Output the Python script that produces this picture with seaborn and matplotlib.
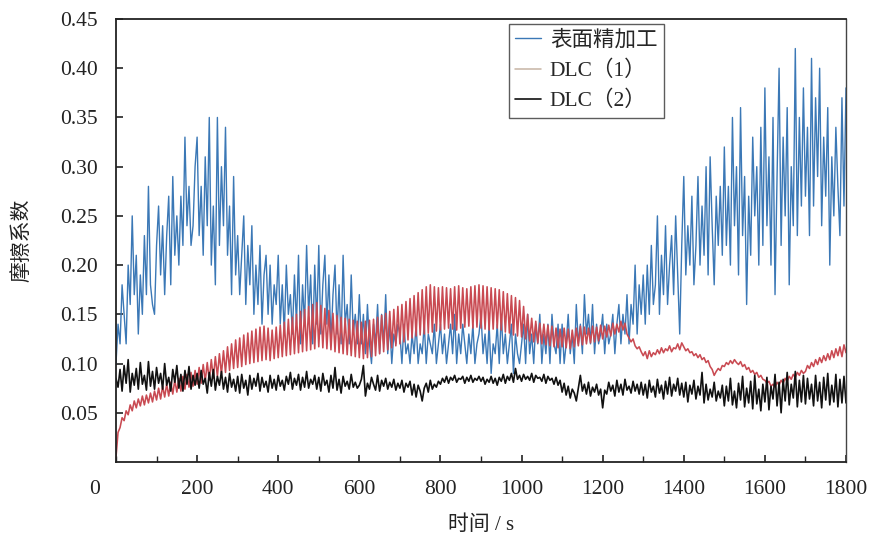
import numpy as np
import pandas as pd
import matplotlib
matplotlib.use('Agg')
import matplotlib.pyplot as plt
import seaborn as sns
from matplotlib.ticker import MultipleLocator

# 时间轴：0 ~ 1800 s，每 5 s 一个点
time_s = list(range(0, 1801, 5))

# 表面精加工
surface = [
    0.10, 0.14, 0.12, 0.18, 0.15, 0.12, 0.20, 0.16, 0.25, 0.17, 0.21, 0.13, 0.19, 0.15, 0.23, 0.17, 0.28, 0.18, 0.16, 0.15,
    0.22, 0.26, 0.19, 0.24, 0.17, 0.23, 0.27, 0.18, 0.29, 0.21, 0.25, 0.20, 0.27, 0.22, 0.33, 0.24, 0.28, 0.22, 0.24, 0.30,
    0.33, 0.23, 0.28, 0.21, 0.31, 0.24, 0.35, 0.20, 0.26, 0.18, 0.35, 0.22, 0.30, 0.24, 0.34, 0.21, 0.26, 0.17, 0.29, 0.19,
    0.23, 0.17, 0.21, 0.25, 0.16, 0.22, 0.18, 0.24, 0.15, 0.20, 0.16, 0.22, 0.14, 0.19, 0.21, 0.15, 0.20, 0.14, 0.18, 0.16,
    0.21, 0.14, 0.18, 0.13, 0.20, 0.15, 0.17, 0.13, 0.19, 0.14, 0.21, 0.12, 0.18, 0.14, 0.22, 0.15, 0.19, 0.12, 0.20, 0.14,
    0.22, 0.13, 0.18, 0.21, 0.14, 0.19, 0.12, 0.17, 0.20, 0.13, 0.18, 0.12, 0.21, 0.14, 0.16, 0.12, 0.19, 0.13, 0.15, 0.12,
    0.17, 0.12, 0.15, 0.11, 0.16, 0.12, 0.10, 0.14, 0.12, 0.16, 0.11, 0.15, 0.12, 0.17, 0.11, 0.14, 0.10, 0.13, 0.12, 0.14,
    0.13, 0.10, 0.14, 0.11, 0.12, 0.10, 0.13, 0.11, 0.14, 0.10, 0.12, 0.11, 0.14, 0.10, 0.13, 0.12, 0.11, 0.14, 0.10, 0.12,
    0.14, 0.11, 0.13, 0.10, 0.12, 0.14, 0.11, 0.15, 0.10, 0.13, 0.11, 0.14, 0.12, 0.10, 0.13, 0.11, 0.14, 0.10, 0.12, 0.13,
    0.15, 0.11, 0.13, 0.10, 0.14, 0.09, 0.12, 0.11, 0.14, 0.10, 0.15, 0.11, 0.13, 0.10, 0.12, 0.14, 0.09, 0.13, 0.11, 0.10,
    0.12, 0.14, 0.10, 0.15, 0.11, 0.13, 0.10, 0.14, 0.12, 0.15, 0.10, 0.13, 0.11, 0.14, 0.10, 0.15, 0.12, 0.11, 0.14, 0.10,
    0.14, 0.10, 0.12, 0.15, 0.11, 0.13, 0.10, 0.16, 0.12, 0.14, 0.11, 0.17, 0.13, 0.15, 0.12, 0.16, 0.11, 0.14, 0.12, 0.13,
    0.15, 0.11, 0.14, 0.12, 0.13, 0.15, 0.11, 0.14, 0.16, 0.12, 0.15, 0.13, 0.17, 0.12, 0.16, 0.14, 0.20, 0.13, 0.18, 0.15,
    0.19, 0.14, 0.20, 0.15, 0.22, 0.16, 0.18, 0.25, 0.15, 0.21, 0.17, 0.24, 0.16, 0.20, 0.23, 0.17, 0.25, 0.19, 0.13, 0.22,
    0.29, 0.19, 0.24, 0.20, 0.27, 0.18, 0.22, 0.29, 0.20, 0.26, 0.21, 0.30, 0.19, 0.31, 0.24, 0.18, 0.27, 0.22, 0.28, 0.21,
    0.32, 0.22, 0.28, 0.20, 0.35, 0.24, 0.30, 0.19, 0.36, 0.23, 0.29, 0.16, 0.27, 0.21, 0.33, 0.25, 0.30, 0.20, 0.34, 0.22,
    0.38, 0.24, 0.31, 0.20, 0.35, 0.17, 0.29, 0.40, 0.22, 0.33, 0.25, 0.36, 0.18, 0.30, 0.24, 0.42, 0.23, 0.35, 0.26, 0.38,
    0.27, 0.34, 0.23, 0.41, 0.26, 0.37, 0.29, 0.40, 0.24, 0.33, 0.27, 0.36, 0.20, 0.31, 0.25, 0.34, 0.28, 0.23, 0.37, 0.26,
    0.38,
]

# DLC（1）
dlc1 = [
    0.005, 0.030, 0.035, 0.045, 0.042, 0.052, 0.048, 0.058, 0.052, 0.062, 0.055, 0.064, 0.057, 0.067, 0.058, 0.068, 0.060, 0.070, 0.061, 0.072,
    0.063, 0.075, 0.064, 0.077, 0.066, 0.079, 0.067, 0.081, 0.069, 0.083, 0.071, 0.085, 0.072, 0.087, 0.074, 0.089, 0.076, 0.091, 0.077, 0.093,
    0.079, 0.096, 0.080, 0.099, 0.082, 0.101, 0.083, 0.104, 0.085, 0.107, 0.087, 0.110, 0.089, 0.113, 0.091, 0.117, 0.093, 0.120, 0.095, 0.124,
    0.096, 0.126, 0.097, 0.129, 0.099, 0.131, 0.100, 0.133, 0.101, 0.135, 0.102, 0.137, 0.103, 0.138, 0.104, 0.136, 0.103, 0.134, 0.105, 0.137,
    0.106, 0.139, 0.107, 0.142, 0.108, 0.145, 0.109, 0.147, 0.110, 0.150, 0.111, 0.153, 0.112, 0.155, 0.113, 0.158, 0.114, 0.160, 0.115, 0.162,
    0.117, 0.159, 0.116, 0.156, 0.115, 0.154, 0.114, 0.151, 0.112, 0.149, 0.111, 0.147, 0.110, 0.146, 0.109, 0.145, 0.108, 0.144, 0.107, 0.143,
    0.106, 0.142, 0.105, 0.143, 0.106, 0.144, 0.107, 0.145, 0.108, 0.147, 0.110, 0.149, 0.112, 0.151, 0.114, 0.153, 0.116, 0.155, 0.118, 0.158,
    0.120, 0.160, 0.122, 0.163, 0.124, 0.166, 0.126, 0.169, 0.128, 0.172, 0.129, 0.175, 0.130, 0.178, 0.131, 0.180, 0.132, 0.178, 0.133, 0.177,
    0.134, 0.178, 0.135, 0.177, 0.136, 0.176, 0.135, 0.178, 0.134, 0.179, 0.136, 0.177, 0.137, 0.176, 0.138, 0.178, 0.136, 0.179, 0.137, 0.180,
    0.136, 0.179, 0.135, 0.178, 0.134, 0.177, 0.135, 0.176, 0.136, 0.175, 0.134, 0.173, 0.132, 0.171, 0.131, 0.169, 0.129, 0.167, 0.128, 0.164,
    0.127, 0.158, 0.125, 0.150, 0.123, 0.146, 0.122, 0.143, 0.121, 0.141, 0.120, 0.140, 0.119, 0.139, 0.118, 0.138, 0.117, 0.136, 0.116, 0.135,
    0.117, 0.136, 0.116, 0.135, 0.115, 0.134, 0.117, 0.136, 0.118, 0.138, 0.119, 0.137, 0.120, 0.136, 0.121, 0.138, 0.122, 0.137, 0.123, 0.139,
    0.125, 0.138, 0.127, 0.139, 0.128, 0.141, 0.130, 0.140, 0.132, 0.143, 0.134, 0.141, 0.130, 0.126, 0.122, 0.125, 0.118, 0.115, 0.117, 0.112,
    0.108, 0.112, 0.105, 0.113, 0.107, 0.111, 0.109, 0.114, 0.110, 0.116, 0.111, 0.115, 0.113, 0.118, 0.112, 0.116, 0.115, 0.120, 0.114, 0.121,
    0.117, 0.113, 0.115, 0.111, 0.112, 0.108, 0.110, 0.106, 0.109, 0.104, 0.106, 0.101, 0.103, 0.097, 0.094, 0.088, 0.092, 0.095, 0.093, 0.098,
    0.097, 0.101, 0.099, 0.103, 0.100, 0.104, 0.101, 0.099, 0.102, 0.097, 0.099, 0.094, 0.096, 0.091, 0.093, 0.089, 0.091, 0.086, 0.088, 0.084,
    0.083, 0.080, 0.082, 0.077, 0.079, 0.076, 0.081, 0.078, 0.083, 0.080, 0.085, 0.082, 0.087, 0.084, 0.089, 0.086, 0.091, 0.088, 0.093, 0.090,
    0.092, 0.098, 0.095, 0.101, 0.097, 0.104, 0.099, 0.106, 0.101, 0.108, 0.103, 0.110, 0.104, 0.113, 0.106, 0.115, 0.108, 0.117, 0.107, 0.119,
    0.111,
]

# DLC（2）
dlc2 = [
    0.085, 0.076, 0.094, 0.072, 0.098, 0.080, 0.104, 0.071, 0.090, 0.078, 0.095, 0.074, 0.101, 0.079, 0.088, 0.073, 0.102, 0.077, 0.092, 0.074,
    0.096, 0.080, 0.090, 0.074, 0.100, 0.078, 0.086, 0.072, 0.094, 0.081, 0.098, 0.075, 0.089, 0.072, 0.093, 0.079, 0.097, 0.074, 0.088, 0.078,
    0.090, 0.075, 0.093, 0.079, 0.085, 0.070, 0.091, 0.077, 0.094, 0.073, 0.087, 0.078, 0.092, 0.074, 0.086, 0.071, 0.090, 0.076, 0.084, 0.072,
    0.087, 0.070, 0.089, 0.075, 0.083, 0.068, 0.088, 0.074, 0.085, 0.077, 0.090, 0.072, 0.086, 0.076, 0.082, 0.071, 0.088, 0.075, 0.084, 0.073,
    0.088, 0.077, 0.083, 0.073, 0.087, 0.079, 0.091, 0.074, 0.085, 0.078, 0.089, 0.073, 0.086, 0.076, 0.092, 0.075, 0.084, 0.079, 0.088, 0.074,
    0.086, 0.072, 0.090, 0.078, 0.083, 0.071, 0.088, 0.075, 0.096, 0.073, 0.084, 0.070, 0.087, 0.077, 0.082, 0.074, 0.089, 0.076, 0.081, 0.075,
    0.078, 0.084, 0.098, 0.067, 0.080, 0.074, 0.086, 0.079, 0.073, 0.088, 0.072, 0.083, 0.077, 0.085, 0.074, 0.081, 0.076, 0.084, 0.073, 0.080,
    0.075, 0.083, 0.071, 0.080, 0.076, 0.082, 0.068, 0.079, 0.066, 0.078, 0.072, 0.062, 0.075, 0.080, 0.071, 0.083, 0.074, 0.079, 0.076, 0.082,
    0.079, 0.085, 0.081, 0.087, 0.080, 0.086, 0.083, 0.088, 0.081, 0.085, 0.084, 0.087, 0.080, 0.086, 0.082, 0.088, 0.081, 0.085, 0.083, 0.087,
    0.082, 0.086, 0.079, 0.084, 0.081, 0.087, 0.080, 0.085, 0.078, 0.086, 0.082, 0.089, 0.080, 0.087, 0.083, 0.090, 0.081, 0.095, 0.084, 0.088,
    0.082, 0.089, 0.084, 0.087, 0.083, 0.090, 0.081, 0.088, 0.085, 0.086, 0.082, 0.089, 0.080, 0.087, 0.083, 0.085, 0.079, 0.086, 0.078, 0.083,
    0.071, 0.080, 0.068, 0.077, 0.065, 0.074, 0.070, 0.062, 0.075, 0.088, 0.072, 0.079, 0.069, 0.081, 0.067, 0.076, 0.071, 0.079, 0.068, 0.074,
    0.055, 0.073, 0.069, 0.081, 0.072, 0.078, 0.067, 0.083, 0.071, 0.079, 0.068, 0.084, 0.073, 0.077, 0.070, 0.082, 0.072, 0.079, 0.069, 0.081,
    0.068, 0.079, 0.065, 0.083, 0.071, 0.077, 0.066, 0.084, 0.070, 0.078, 0.064, 0.082, 0.069, 0.086, 0.067, 0.079, 0.072, 0.085, 0.068, 0.080,
    0.066, 0.081, 0.061, 0.078, 0.069, 0.083, 0.064, 0.077, 0.068, 0.091, 0.060, 0.079, 0.063, 0.074, 0.066, 0.081, 0.062, 0.072, 0.065, 0.078,
    0.057, 0.077, 0.062, 0.085, 0.058, 0.072, 0.055, 0.080, 0.063, 0.087, 0.056, 0.075, 0.060, 0.082, 0.054, 0.088, 0.059, 0.074, 0.052, 0.079,
    0.061, 0.086, 0.053, 0.077, 0.064, 0.089, 0.057, 0.081, 0.050, 0.084, 0.062, 0.091, 0.058, 0.079, 0.065, 0.092, 0.056, 0.083, 0.061, 0.088,
    0.059, 0.085, 0.064, 0.079, 0.057, 0.088, 0.062, 0.081, 0.055, 0.086, 0.063, 0.090, 0.058, 0.078, 0.061, 0.089, 0.056, 0.084, 0.060, 0.087,
    0.060,
]

series_labels = ['表面精加工', 'DLC（1）', 'DLC（2）']
series_colors = ['#3b78b6', '#c94a52', '#111111']
x_ticks = [200, 400, 600, 800, 1000, 1200, 1400, 1600, 1800]
y_ticks = [0.05, 0.10, 0.15, 0.20, 0.25, 0.30, 0.35, 0.40, 0.45]

sns.set_style('ticks')
plt.rcParams['font.family'] = ['Liberation Serif', 'Noto Sans CJK SC', 'DejaVu Sans']
plt.rcParams['axes.unicode_minus'] = False

fig = plt.figure(figsize=(8.71, 5.35), dpi=100)
ax = fig.add_axes([116 / 871, 1 - 462 / 535, 730 / 871, 443 / 535])

for vals, lab, col, lw in zip([surface, dlc1, dlc2], series_labels, series_colors, [1.0, 1.15, 1.2]):
    df = pd.DataFrame({'时间': time_s, '摩擦系数': vals})
    sns.lineplot(data=df, x='时间', y='摩擦系数', ax=ax, color=col, linewidth=lw, label=lab)

ax.set_xlim(0, 1800)
ax.set_ylim(0, 0.45)
ax.set_xticks(x_ticks)
ax.set_xticklabels([str(t) for t in x_ticks])
ax.xaxis.set_minor_locator(MultipleLocator(100))
ax.set_yticks(y_ticks)
ax.set_yticklabels([f'{v:.2f}' for v in y_ticks])
ax.tick_params(axis='both', which='major', direction='in', length=5, width=1.2,
               labelsize=15.5, colors='#222222')
ax.tick_params(axis='x', which='major', pad=13)
ax.tick_params(axis='y', which='major', pad=13)
ax.tick_params(axis='x', which='minor', direction='in', length=4, width=1.0)
ax.tick_params(right=False, top=False)
for side in ['left', 'bottom', 'top']:
    ax.spines[side].set_linewidth(1.3)
    ax.spines[side].set_color('#222222')
ax.spines['right'].set_linewidth(1.0)
ax.spines['right'].set_color('#444444')

ax.set_xlabel('时间 / s', fontsize=15, labelpad=12, color='#222222')
ax.set_ylabel('摩擦系数', fontsize=15, labelpad=20, color='#222222')
fig.text(95 / 871, 1 - 490 / 535, '0', fontsize=15.5, ha='center', va='center', color='#222222')

leg = ax.legend(loc='upper left', bbox_to_anchor=((509 - 116) / 730, (462 - 24) / 443),
                borderaxespad=0, fontsize=15.5, frameon=True, fancybox=False,
                handlelength=1.2, handletextpad=0.4, labelspacing=0.45,
                borderpad=0.3)
leg.get_frame().set_edgecolor('#333333')
leg.get_frame().set_linewidth(1.0)
leg.legend_handles[1].set_color('#c8b7a8')

fig.savefig('out.png', dpi=100)
